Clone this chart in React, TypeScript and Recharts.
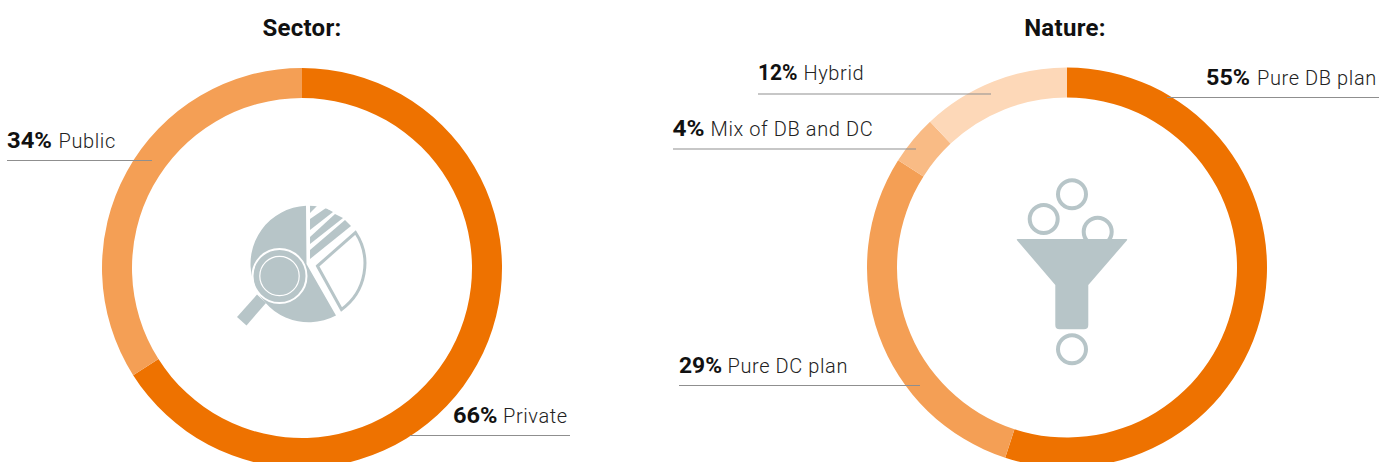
import React from 'react';
import { PieChart, Pie, Cell } from 'recharts';

// ─── Data ─────────────────────────────────────────────────────────────────────

const SECTOR_NAMES = ['Private', 'Public'];
const SECTOR_VALUES = [66, 34];
const SECTOR_COLOURS = ['#EE7200', '#F49F55'];

const NATURE_NAMES = ['Pure DB plan', 'Pure DC plan', 'Mix of DB and DC', 'Hybrid'];
const NATURE_VALUES = [55, 29, 4, 12];
const NATURE_COLOURS = ['#EE7200', '#F49F55', '#F9BB85', '#FDD8B8'];

const toRows = (names: string[], values: number[]) =>
  names.map((name, i) => ({ name, value: values[i] }));

// ─── Layout ───────────────────────────────────────────────────────────────────

const WIDTH = 1379;
const HEIGHT = 462;
const ICON_COLOUR = '#B7C5C8';
const FONT = 'Roboto, sans-serif';

interface Callout {
  pct: string;
  text: string;
  x: number;
  pctWidth: number;
  textX: number;
  baseline: number;
  lineY: number;
  x1: number;
  x2: number;
}

const CALLOUTS: Callout[] = [
  { pct: '34%', text: 'Public', x: 7, pctWidth: 45, textX: 58.5, baseline: 148, lineY: 160.5, x1: 7, x2: 152 },
  { pct: '66%', text: 'Private', x: 453, pctWidth: 44.5, textX: 503, baseline: 423, lineY: 435.5, x1: 410, x2: 570 },
  { pct: '55%', text: 'Pure DB plan', x: 1206, pctWidth: 44, textX: 1257, baseline: 85, lineY: 97.5, x1: 1167, x2: 1379 },
  { pct: '12%', text: 'Hybrid', x: 758, pctWidth: 39.5, textX: 803.5, baseline: 80, lineY: 94, x1: 758, x2: 991 },
  { pct: '4%', text: 'Mix of DB and DC', x: 672.5, pctWidth: 32, textX: 710.5, baseline: 135.5, lineY: 149, x1: 673, x2: 916 },
  { pct: '29%', text: 'Pure DC plan', x: 679, pctWidth: 43, textX: 727.5, baseline: 373, lineY: 385.5, x1: 679, x2: 920 },
];

// ─── Icons ────────────────────────────────────────────────────────────────────

function PieIcon() {
  return (
    <g>
      <defs>
        <clipPath id="pie-icon-clip">
          <circle cx={308.5} cy={264} r={58.3} />
        </clipPath>
      </defs>
      <path d="M306 205.7 A58.3 58.3 0 1 0 336 315.5 L306.5 264 Z" fill={ICON_COLOUR} />
      <g clipPath="url(#pie-icon-clip)" fill={ICON_COLOUR}>
        <polygon points="310,205 318,205 310,213" />
        <polygon points="310,219 326,208 333,212 310,230" />
        <polygon points="310,237 335,214 343,218 310,244" />
        <polygon points="310,250 345,220 351,226 310,259" />
      </g>
      <path
        d="M317.5 266 L355.5 232.5 A56.5 56.5 0 0 1 341.5 309.5 Z"
        fill="#fff"
        stroke={ICON_COLOUR}
        strokeWidth={3}
      />
      <polygon points="237,317 246.5,325.5 266,303 257,294.5" fill={ICON_COLOUR} />
      <circle cx={279.5} cy={276} r={27} fill={ICON_COLOUR} stroke="#fff" strokeWidth={2} />
      <circle cx={279.5} cy={276} r={19.7} fill={ICON_COLOUR} stroke="#fff" strokeWidth={1.2} />
    </g>
  );
}

function FunnelIcon() {
  return (
    <g>
      <g fill="none" stroke={ICON_COLOUR} strokeWidth={4}>
        <circle cx={1072} cy={194.3} r={14} />
        <circle cx={1043.7} cy={219} r={14} />
        <circle cx={1097.7} cy={231.7} r={14} />
        <circle cx={1072} cy={349.3} r={14} />
      </g>
      <path
        d="M1017.5 239 H1126.5 Q1127.8 239 1127 240.2 L1088.3 285 V325 Q1088.3 329.3 1084 329.3 H1059.6 Q1055.3 329.3 1055.3 325 V285 L1017 240.2 Q1016.2 239 1017.5 239 Z"
        fill={ICON_COLOUR}
      />
    </g>
  );
}

// ─── Component ────────────────────────────────────────────────────────────────

export default function App() {
  return (
    <div
      style={{
        position: 'absolute',
        left: 0,
        top: 0,
        width: WIDTH,
        height: HEIGHT,
        overflow: 'hidden',
        background: '#fff',
      }}
    >
      <PieChart width={WIDTH} height={HEIGHT} margin={{ top: 0, right: 0, bottom: 0, left: 0 }}>
        <Pie
          data={toRows(SECTOR_NAMES, SECTOR_VALUES)}
          dataKey="value"
          nameKey="name"
          cx={302}
          cy={268}
          innerRadius={170}
          outerRadius={200}
          startAngle={90}
          endAngle={-270}
          stroke="none"
          isAnimationActive={false}
        >
          {SECTOR_COLOURS.map((c) => (
            <Cell key={c} fill={c} />
          ))}
        </Pie>
        <Pie
          data={toRows(NATURE_NAMES, NATURE_VALUES)}
          dataKey="value"
          nameKey="name"
          cx={1067}
          cy={267.5}
          innerRadius={170}
          outerRadius={200}
          startAngle={90}
          endAngle={-270}
          stroke="none"
          isAnimationActive={false}
        >
          {NATURE_COLOURS.map((c) => (
            <Cell key={c} fill={c} />
          ))}
        </Pie>
      </PieChart>

      <svg
        width={WIDTH}
        height={HEIGHT}
        style={{ position: 'absolute', left: 0, top: 0, pointerEvents: 'none' }}
        fontFamily={FONT}
      >
        <text x={302} y={36} textAnchor="middle" fontSize={24} fontWeight={700} fill="#111" letterSpacing={0.3}>
          Sector:
        </text>
        <text x={1065} y={36} textAnchor="middle" fontSize={24} fontWeight={700} fill="#111" letterSpacing={0.3}>
          Nature:
        </text>

        <PieIcon />
        <FunnelIcon />

        {CALLOUTS.map((c) => (
          <g key={c.text}>
            <text
              x={c.x}
              y={c.baseline}
              fontSize={22}
              fontWeight={700}
              fill="#111"
              textLength={c.pctWidth}
              lengthAdjust="spacingAndGlyphs"
            >
              {c.pct}
            </text>
            <text x={c.textX} y={c.baseline} fontSize={20} fontWeight={300} fill="#222" letterSpacing={0.6}>
              {c.text}
            </text>
            <line x1={c.x1} x2={c.x2} y1={c.lineY} y2={c.lineY} stroke="#8f8f8f" strokeWidth={1} />
          </g>
        ))}
      </svg>
    </div>
  );
}
